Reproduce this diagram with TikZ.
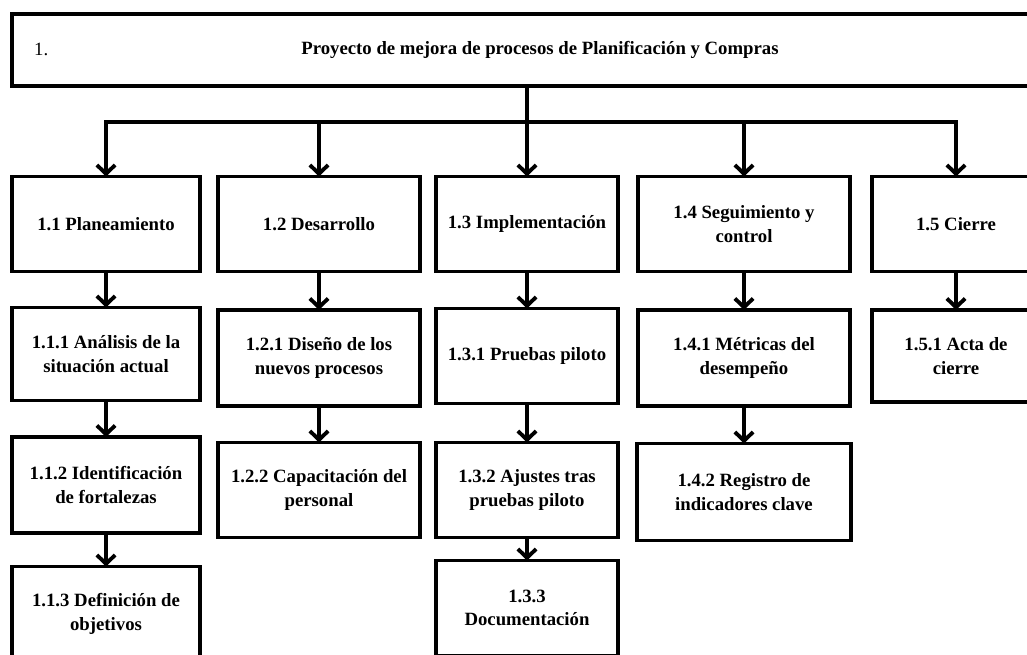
\documentclass[tikz,border=0pt]{standalone}
\usepackage{fontspec}
\setmainfont{Liberation Serif}
\usetikzlibrary{arrows.meta}

\begin{document}
\begin{tikzpicture}[x=0.3mm, y=-0.3mm,
  caja/.style={draw, line width=3.3pt, align=center, inner sep=0pt, outer sep=0pt, font=\fontsize{16}{20}\selectfont\bfseries},
  flecha/.style={line width=3.3pt, -{Straight Barb[length=7.5pt,width=15.5pt]}}]
\useasboundingbox (0,0) rectangle (1027,655);

\node[caja, minimum width=1056*0.3mm, minimum height=72*0.3mm] (proj) at (540,50) {Proyecto de mejora de procesos de Planificación y Compras};
\node[font=\fontsize{16}{20}\selectfont, anchor=west] (num) at (30,49) {1.};

\node[caja, minimum width=188*0.3mm, minimum height=95*0.3mm] (p11) at (106,224) {1.1 Planeamiento};
\node[caja, minimum width=202*0.3mm, minimum height=95*0.3mm] (p12) at (319,224) {1.2 Desarrollo};
\node[caja, minimum width=182*0.3mm, minimum height=95*0.3mm] (p13) at (527,224) {1.3 Implementación};
\node[caja, minimum width=212*0.3mm, minimum height=95*0.3mm] (p14) at (744,224) {1.4 Seguimiento y\\control};
\node[caja, minimum width=168*0.3mm, minimum height=95*0.3mm] (p15) at (956,224) {1.5 Cierre};

\node[caja, minimum width=188*0.3mm, minimum height=93*0.3mm] (p111) at (106,354) {1.1.1 Análisis de la\\situación actual};
\node[caja, minimum width=202*0.3mm, minimum height=96*0.3mm] (p121) at (319,358) {1.2.1 Diseño de los\\nuevos procesos};
\node[caja, minimum width=182*0.3mm, minimum height=95*0.3mm] (p131) at (527,356) {1.3.1 Pruebas piloto};
\node[caja, minimum width=212*0.3mm, minimum height=96*0.3mm] (p141) at (744,358) {1.4.1 Métricas del\\desempeño};
\node[caja, minimum width=168*0.3mm, minimum height=92*0.3mm] (p151) at (956,356) {1.5.1 Acta de\\cierre};

\node[caja, minimum width=188*0.3mm, minimum height=96*0.3mm] (p112) at (106,485) {1.1.2 Identificación\\de fortalezas};
\node[caja, minimum width=202*0.3mm, minimum height=95*0.3mm] (p122) at (319,490) {1.2.2 Capacitación del\\personal};
\node[caja, minimum width=182*0.3mm, minimum height=95*0.3mm] (p132) at (527,490) {1.3.2 Ajustes tras\\pruebas piloto};
\node[caja, minimum width=214*0.3mm, minimum height=97*0.3mm] (p142) at (744,492) {1.4.2 Registro de\\indicadores clave};

\node[caja, minimum width=188*0.3mm, minimum height=95*0.3mm] (p113) at (106,614) {1.1.3 Definición de\\objetivos};
\node[caja, minimum width=182*0.3mm, minimum height=95*0.3mm] (p133) at (527,608) {1.3.3\\Documentación};

\coordinate (barra) at (0,122);
\draw[flecha] (proj.south -| p13.north) -- (p13.north);
\draw[flecha] (barra -| p13.north) -| (p11.north);
\draw[flecha] (barra -| p13.north) -| (p15.north);
\draw[flecha] (barra -| p12.north) -- (p12.north);
\draw[flecha] (barra -| p14.north) -- (p14.north);

\draw[flecha] (p11.south) -- (p111.north);
\draw[flecha] (p111.south) -- (p112.north);
\draw[flecha] (p112.south) -- (p113.north);
\draw[flecha] (p12.south) -- (p121.north);
\draw[flecha] (p121.south) -- (p122.north);
\draw[flecha] (p13.south) -- (p131.north);
\draw[flecha] (p131.south) -- (p132.north);
\draw[flecha] (p132.south) -- (p133.north);
\draw[flecha] (p14.south) -- (p141.north);
\draw[flecha] (p141.south) -- (p142.north);
\draw[flecha] (p15.south) -- (p151.north);
\end{tikzpicture}
\end{document}
